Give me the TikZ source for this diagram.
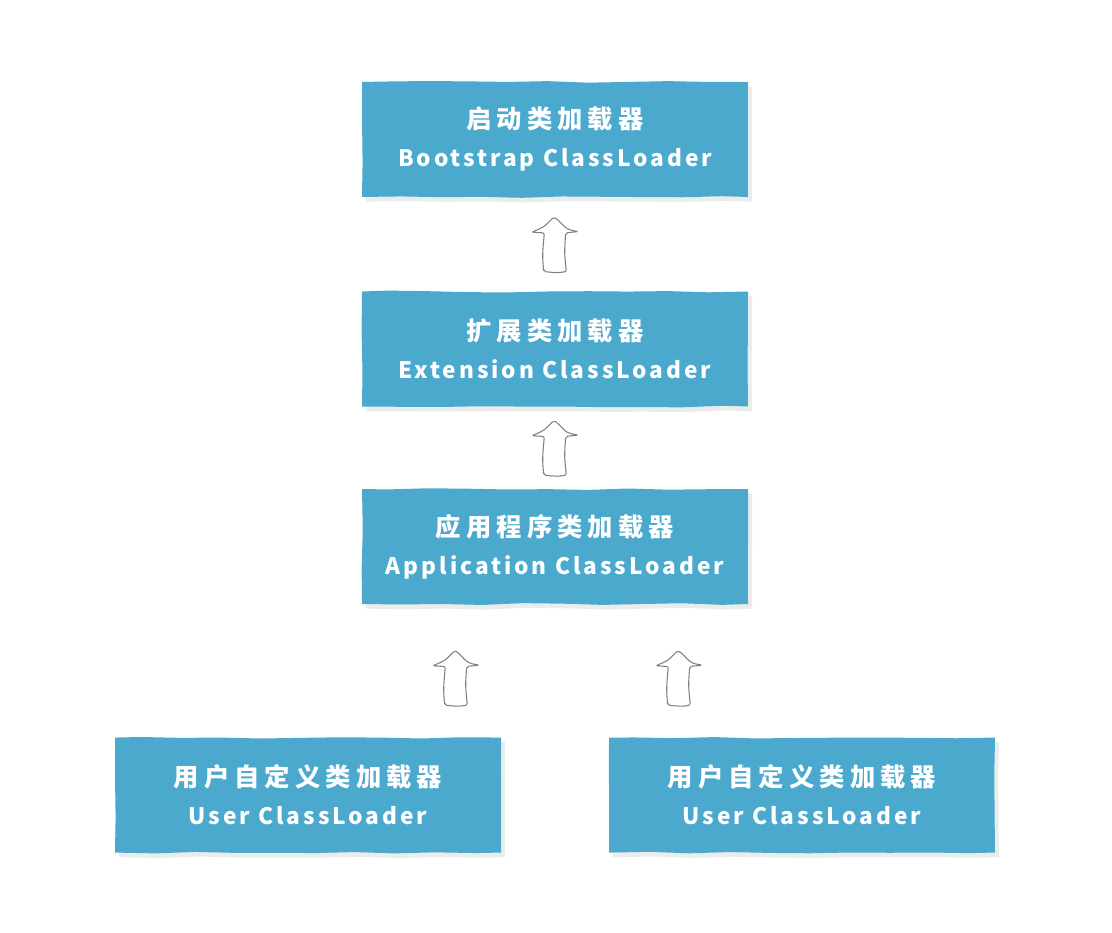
\documentclass[tikz,border=0pt]{standalone}
\usepackage{fontspec}
\setmainfont{Noto Sans CJK SC}
\newfontfamily\hanfont[LetterSpace=20]{Noto Sans CJK SC}
\newfontfamily\latfont[LetterSpace=13]{Noto Sans CJK SC}
\usepackage{xcolor}
\usepackage{tikz}
\usetikzlibrary{positioning, shadows, calc, decorations.pathmorphing}
\definecolor{loaderblue}{HTML}{4BA9CE}
\newcommand{\hanline}[1]{{\hanfont\fontsize{19}{28.5}\selectfont #1}}

\begin{document}
\begin{tikzpicture}[
    loader/.style={rectangle, fill=loaderblue, text=white, minimum width=289.5pt, minimum height=86.25pt,
        inner sep=0pt, align=center, font=\fontsize{17}{28.5}\selectfont\bfseries,
        decoration={random steps, segment length=30pt, amplitude=0.7pt}, decorate,
        drop shadow={shadow xshift=3pt, shadow yshift=-3.5pt, fill=black!15}},
    upward/.style={draw=black!50, line width=0.8pt, line join=round, rounded corners=1.5pt,
        to path={let \p3=($(\tikztostart)!0.5!(\tikztotarget)$) in
            (\x3-8.5pt,\y3-20.5pt) .. controls (\x3-9.5pt,\y3-8pt) .. (\x3-8pt,\y3+8.5pt)
            -- (\x3-17.5pt,\y3+9pt) .. controls (\x3-8pt,\y3+13pt) .. (\x3-1pt,\y3+20.5pt)
            -- (\x3+2pt,\y3+18.5pt) .. controls (\x3+9pt,\y3+11pt) .. (\x3+17.5pt,\y3+9.5pt)
            -- (\x3+8pt,\y3+8.5pt) .. controls (\x3+7pt,\y3-6pt) .. (\x3+8.5pt,\y3-20.5pt)
            .. controls (\x3+2pt,\y3-21.5pt) .. cycle}}
]

\useasboundingbox (0,0) rectangle (834pt,-699pt);

% Loaders, top to bottom
\node[loader] (boot) at (416.25pt,-104.6pt) {\hanline{启动类加载器}\\{\latfont Bootstrap ClassLoader}};
\node[loader, below=70.5pt of boot] (ext) {\hanline{扩展类加载器}\\{\latfont Extension ClassLoader}};
\node[loader, below=61.5pt of ext] (app) {\hanline{应用程序类加载器}\\{\latfont Application ClassLoader}};
\node[loader, below=99.75pt of app, xshift=-185.25pt] (userL) {\hanline{用户自定义类加载器}\\{\latfont User ClassLoader}};
\node[loader, below=99.75pt of app, xshift=185.25pt] (userR) {\hanline{用户自定义类加载器}\\{\latfont User ClassLoader}};

% Delegation arrows
\coordinate (upL) at ([xshift=111pt, yshift=-10.5pt]userL.north);
\coordinate (upR) at ([xshift=-92.25pt, yshift=-10.5pt]userR.north);

\draw[upward] (ext.north) to (boot.south);
\draw[upward] (app.north) to (ext.south);
\draw[upward] (upL) to (upL |- app.south);
\draw[upward] (upR) to (upR |- app.south);

\end{tikzpicture}
\end{document}
